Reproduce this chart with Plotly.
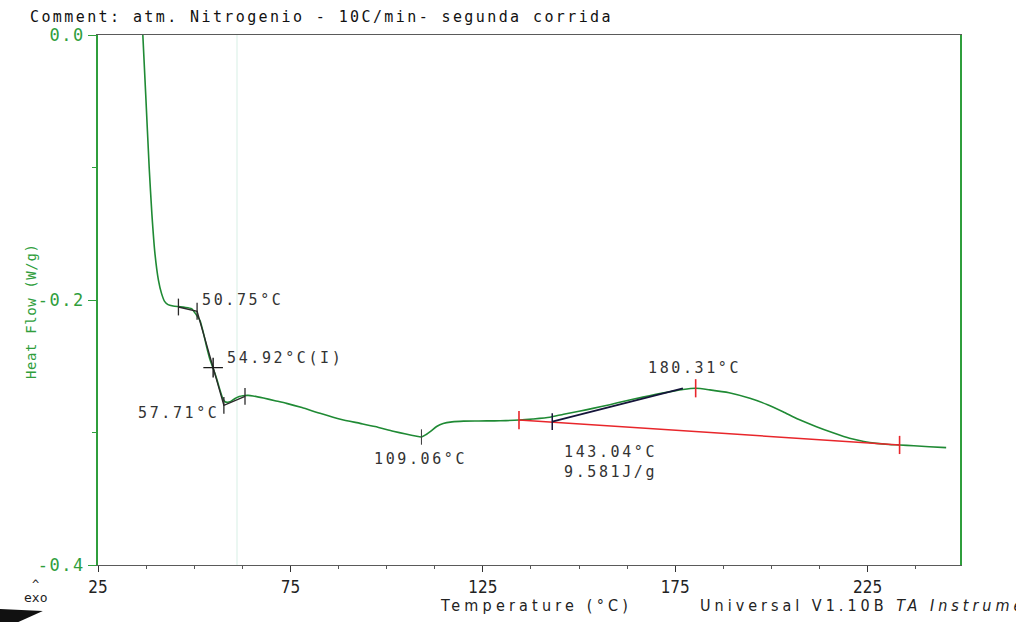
import plotly.graph_objects as go

# DSC heat-flow trace (second heating run)
temperature = [36.6, 37.4, 38.3, 39.0, 39.8, 40.7, 41.5, 42.3, 43.2, 44.5, 45.9, 47.5, 49.3,
               50.5, 51.5, 52.4, 53.2, 54.0, 54.92, 55.8, 56.7, 57.4, 58.0, 58.7, 59.5, 60.5,
               61.7, 62.7, 64.0, 65.3, 68.0, 71.0, 74.0, 78.0, 82.7, 88.0, 93.1, 97.0, 101.7,
               105.0, 107.5, 109.06, 110.3, 111.5, 113.0, 114.7, 117.0, 120.0, 124.0, 128.0,
               131.0, 134.4, 138.0, 142.4, 146.0, 150.0, 153.6, 158.0, 162.0, 166.6, 170.0,
               174.0, 177.0, 180.31, 184.0, 189.0, 194.4, 199.0, 203.0, 207.0, 211.7, 216.0,
               220.3, 224.0, 227.3, 230.5, 233.3, 237.0, 241.0, 245.4]
heat_flow = [0.003, -0.045, -0.100, -0.135, -0.165, -0.185, -0.195, -0.201, -0.2035, -0.2045,
             -0.2050, -0.2055, -0.2065, -0.2110, -0.2155, -0.2250, -0.2350, -0.2440, -0.2516,
             -0.2590, -0.2680, -0.2740, -0.2768, -0.2772, -0.2765, -0.2745, -0.2728, -0.2722,
             -0.2720, -0.2724, -0.2740, -0.2760, -0.2780, -0.2812, -0.2855, -0.2900, -0.2931,
             -0.2955, -0.2990, -0.3012, -0.3027, -0.3034, -0.3015, -0.2990, -0.2955, -0.2932,
             -0.2920, -0.2914, -0.2913, -0.2912, -0.2910, -0.2906, -0.2898, -0.2885, -0.2862,
             -0.2840, -0.2818, -0.2790, -0.2762, -0.2733, -0.2712, -0.2690, -0.2675, -0.2666,
             -0.2678, -0.2700, -0.2742, -0.2790, -0.2843, -0.2900, -0.2956, -0.3002, -0.3044,
             -0.3068, -0.3082, -0.3090, -0.3094, -0.3100, -0.3107, -0.3114]

# Glass transition construction (onset / inflection / end)
tg_line_t = [45.9, 50.75, 54.92, 57.71, 63.2]
tg_line_hf = [-0.2053, -0.2085, -0.2510, -0.2795, -0.2728]
tg_tick_t = [45.9, 50.75, 57.71, 63.2]
tg_tick_hf = [-0.2053, -0.2085, -0.2795, -0.2728]
tg_mid_t = [54.92]
tg_mid_hf = [-0.2510]

# Minimum near 109 °C
min_t = [109.06]
min_hf = [-0.3034]

# Melting peak: integration baseline, onset tangent, limits
base_t = [134.4, 233.3]
base_hf = [-0.2906, -0.3094]
onset_t = [143.04, 177.0]
onset_hf = [-0.2918, -0.2667]
peak_tick_t = [134.4, 180.31, 233.3]
peak_tick_hf = [-0.2906, -0.2666, -0.3094]

GREEN = "#1f8a34"
AXGREEN = "#2f9e3c"
INK = "#333333"
MONO = "DejaVu Sans Mono, Liberation Mono, monospace"
NARROW = "Liberation Sans Narrow, DejaVu Sans Condensed, Liberation Mono"


def spaced(s, px):
    return f'<span style="letter-spacing:{px}px">{s}</span>'


fig = go.Figure()

fig.add_trace(go.Scatter(x=temperature, y=heat_flow, mode="lines",
                         line=dict(color=GREEN, width=1.6, shape="spline", smoothing=0.6),
                         hoverinfo="skip"))
fig.add_trace(go.Scatter(x=tg_line_t, y=tg_line_hf, mode="lines",
                         line=dict(color="#2a2a2a", width=1.4)))
fig.add_trace(go.Scatter(x=tg_tick_t, y=tg_tick_hf, mode="markers",
                         marker=dict(symbol="line-ns", size=12,
                                     line=dict(color="#2a2a2a", width=1.3))))
fig.add_trace(go.Scatter(x=tg_mid_t, y=tg_mid_hf, mode="markers",
                         marker=dict(symbol="cross-thin", size=14,
                                     line=dict(color="#1a1a1a", width=1.4))))
fig.add_trace(go.Scatter(x=min_t, y=min_hf, mode="markers",
                         marker=dict(symbol="line-ns", size=11,
                                     line=dict(color="#444444", width=1.1))))
fig.add_trace(go.Scatter(x=base_t, y=base_hf, mode="lines",
                         line=dict(color="#e8262b", width=1.5)))
fig.add_trace(go.Scatter(x=onset_t, y=onset_hf, mode="lines",
                         line=dict(color="#15153a", width=1.8)))
fig.add_trace(go.Scatter(x=onset_t[:1], y=onset_hf[:1], mode="markers",
                         marker=dict(symbol="line-ns", size=12,
                                     line=dict(color="#15153a", width=1.5))))
fig.add_trace(go.Scatter(x=peak_tick_t, y=peak_tick_hf, mode="markers",
                         marker=dict(symbol="line-ns", size=13,
                                     line=dict(color="#e8262b", width=1.6))))

labels = [
    ("50.75°C", 51.5, -0.2000, "left"),
    ("54.92°C(I)", 58.0, -0.2438, "left"),
    ("57.71°C", 57.0, -0.2853, "right"),
    ("109.06°C", 108.9, -0.3200, "center"),
    ("143.04°C", 145.5, -0.3147, "left"),
    ("9.581J/g", 145.5, -0.3298, "left"),
    ("180.31°C", 180.1, -0.2513, "center"),
]
for txt, tx, ty, anchor in labels:
    fig.add_annotation(x=tx, y=ty, xref="x", yref="y", text=spaced(txt, 2.6),
                       showarrow=False, xanchor=anchor, yanchor="middle",
                       font=dict(family=MONO, size=15, color=INK))

# page texts around the frame
fig.add_annotation(x=-0.0812, y=1.034, xref="paper", yref="paper",
                   text=spaced("Comment: atm. Nitrogenio - 10C/min- segunda corrida", 2.4),
                   showarrow=False, xanchor="left", yanchor="middle",
                   font=dict(family=MONO, size=15, color="#111111"))
fig.add_annotation(x=-0.0785, y=0.478, xref="paper", yref="paper",
                   text=spaced("Heat Flow (W/g)", 0.6), textangle=-90,
                   showarrow=False, xanchor="center", yanchor="middle",
                   font=dict(family=MONO, size=14, color=AXGREEN))
fig.add_annotation(x=-0.0720, y=-0.038, xref="paper", yref="paper", text="^",
                   showarrow=False, xanchor="center", yanchor="middle",
                   font=dict(family=MONO, size=12, color="#222222"))
fig.add_annotation(x=-0.0720, y=-0.062, xref="paper", yref="paper", text="exo",
                   showarrow=False, xanchor="center", yanchor="middle",
                   font=dict(family=MONO, size=13, color="#222222"))
fig.add_annotation(x=(438 - 98) / 862, y=-0.0755, xref="paper", yref="paper",
                   text=spaced("Temperature (°C)", 4.2),
                   showarrow=False, xanchor="left", yanchor="middle",
                   font=dict(family=NARROW, size=16, color="#222222"))
fig.add_annotation(x=(698 - 98) / 862, y=-0.0755, xref="paper", yref="paper",
                   text=spaced("Universal V1.10B <i>TA Instruments</i>", 4.0),
                   showarrow=False, xanchor="left", yanchor="middle",
                   font=dict(family=NARROW, size=16, color="#222222"))

# faint show-through line and corner smudge on the scanned sheet
fig.add_shape(type="line", xref="paper", yref="paper",
              x0=(237 - 98) / 862, x1=(237 - 98) / 862, y0=0, y1=1,
              line=dict(color="#e4f4ee", width=1.5), layer="below")
fig.add_shape(type="path", xref="paper", yref="paper",
              path="M -0.1137,-0.083 L -0.0640,-0.087 L -0.0930,-0.108 L -0.1137,-0.108 Z",
              fillcolor="#111111", line=dict(width=0))

fig.update_xaxes(range=[25, 249], tickvals=[25, 75, 125, 175, 225],
                 ticks="outside", ticklen=6, tickcolor="#333333", tickwidth=1,
                 minor=dict(dtick=12.5, tick0=25, ticks="outside", ticklen=3,
                            tickcolor="#555555"),
                 showline=True, linecolor="#5a5a5a", linewidth=1.3, mirror=True,
                 showgrid=False, zeroline=False,
                 tickfont=dict(family=NARROW, size=17, color="#222222"))
fig.update_yaxes(range=[-0.4, 0.0], tickvals=[0.0, -0.2, -0.4],
                 ticktext=[spaced(t, 1.5) for t in ["0.0", "-0.2", "-0.4"]],
                 ticks="outside", ticklen=8, tickcolor=AXGREEN, tickwidth=1.2,
                 minor=dict(tickvals=[-0.1, -0.3], ticks="outside", ticklen=4,
                            tickcolor=AXGREEN),
                 showline=True, linecolor=AXGREEN, linewidth=1.6, mirror=True,
                 showgrid=False, zeroline=False,
                 tickfont=dict(family=MONO, size=17, color=AXGREEN))

fig.update_layout(width=1016, height=622, showlegend=False,
                  margin=dict(l=98, r=56, t=35, b=57),
                  paper_bgcolor="white", plot_bgcolor="white")

fig.write_html("out.html")
